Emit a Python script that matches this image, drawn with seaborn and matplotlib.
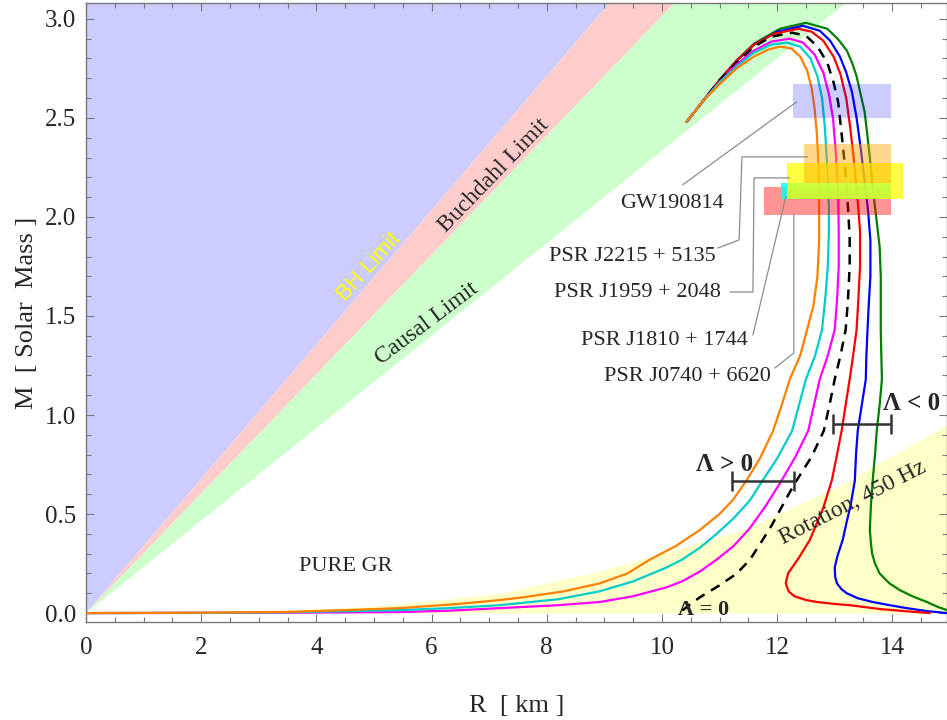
import numpy as np
import pandas as pd
import seaborn as sns
import matplotlib.pyplot as plt
from matplotlib.ticker import MultipleLocator, FormatStrFormatter

sns.set_style("ticks")
plt.rcParams["font.family"] = ["Liberation Serif", "DejaVu Serif"]

# --- limits: R (km) where each limit line reaches M = 3.1 (lines start at origin)
M_TOP = 3.1
bh_R_top = 9.15
buchdahl_R_top = 10.29
causal_R_top = 13.28

# --- rotation (450 Hz) boundary
rot_R = [0.0, 3.0, 5.0, 7.2, 8.9, 10.1, 11.5, 13.0, 14.95]
rot_M = [0.0, 0.008, 0.035, 0.10, 0.21, 0.31, 0.43, 0.63, 0.95]

# --- mass-radius curves (traced from the unstable end, over the peak, down to low mass)
orange_R = [10.43, 10.7, 11.0, 11.3, 11.6, 11.85, 12.05, 12.25, 12.4, 12.52, 12.6, 12.65, 12.69, 12.72,
            12.73, 12.73, 12.70, 12.63, 12.52, 12.40, 12.22, 12.08, 11.93, 11.7, 11.47, 11.23, 11.0,
            10.66, 10.25, 9.79, 9.4, 8.92, 8.3, 7.6, 7.19, 6.5, 5.45, 4.5, 3.5, 2.0, 0.0]
orange_M = [2.48, 2.58, 2.67, 2.75, 2.81, 2.845, 2.86, 2.85, 2.81, 2.74, 2.65, 2.55, 2.42, 2.25,
            2.05, 1.88, 1.7, 1.55, 1.43, 1.3, 1.18, 1.05, 0.92, 0.78, 0.67, 0.57, 0.50,
            0.42, 0.34, 0.27, 0.20, 0.15, 0.11, 0.08, 0.066, 0.047, 0.025, 0.015, 0.006, 0.002, 0.0]

cyan_R = [10.43, 10.7, 11.0, 11.3, 11.6, 11.9, 12.17, 12.4, 12.58, 12.7, 12.78, 12.83, 12.87, 12.9,
          12.9, 12.88, 12.84, 12.78, 12.66, 12.5, 12.38, 12.26, 12.0, 11.75, 11.53, 11.25, 10.95,
          10.66, 10.35, 10.08, 9.5, 8.92, 8.2, 7.19, 6.3, 5.45, 3.5, 2.0, 0.0]
cyan_M = [2.48, 2.58, 2.68, 2.76, 2.83, 2.87, 2.88, 2.86, 2.8, 2.71, 2.6, 2.45, 2.25, 2.05,
          1.93, 1.75, 1.6, 1.43, 1.3, 1.18, 1.05, 0.92, 0.78, 0.67, 0.57, 0.48, 0.40,
          0.33, 0.27, 0.23, 0.16, 0.11, 0.07, 0.04, 0.025, 0.015, 0.004, 0.001, 0.0]

magenta_R = [10.43, 10.7, 11.0, 11.3, 11.6, 11.9, 12.22, 12.45, 12.65, 12.8, 12.9, 12.97, 13.02, 13.06,
             13.07, 13.07, 13.04, 13.0, 12.88, 12.74, 12.64, 12.54, 12.32, 12.08, 11.8, 11.53, 11.25,
             10.95, 10.66, 10.35, 10.08, 9.5, 8.92, 8.2, 7.19, 6.3, 5.45, 3.5, 0.0]
magenta_M = [2.48, 2.58, 2.68, 2.77, 2.84, 2.885, 2.90, 2.88, 2.82, 2.73, 2.62, 2.5, 2.32, 2.12,
             1.93, 1.75, 1.58, 1.43, 1.3, 1.18, 1.05, 0.92, 0.79, 0.67, 0.54, 0.43, 0.34,
             0.27, 0.21, 0.16, 0.13, 0.085, 0.056, 0.04, 0.025, 0.012, 0.005, 0.002, 0.0]

dashed_R = [10.43, 10.7, 11.0, 11.3, 11.6, 11.9, 12.26, 12.5, 12.7, 12.87, 12.98, 13.06, 13.12, 13.18,
            13.23, 13.26, 13.26, 13.23, 13.19, 13.1, 13.0, 12.91, 12.81, 12.6, 12.34, 12.2, 12.05,
            11.9, 11.75, 11.53, 11.3, 11.0, 10.66, 10.45, 10.3]
dashed_M = [2.48, 2.58, 2.69, 2.78, 2.86, 2.91, 2.93, 2.915, 2.86, 2.78, 2.68, 2.58, 2.42, 2.25,
            2.05, 1.9, 1.75, 1.58, 1.43, 1.3, 1.18, 1.05, 0.92, 0.79, 0.67, 0.6, 0.52,
            0.44, 0.37, 0.27, 0.20, 0.14, 0.08, 0.035, 0.0]

red_R = [10.43, 10.7, 11.0, 11.3, 11.6, 11.95, 12.37, 12.6, 12.8, 12.98, 13.1, 13.2, 13.27, 13.34,
         13.4, 13.44, 13.44, 13.41, 13.38, 13.32, 13.26, 13.19, 13.12, 13.04, 12.95, 12.8, 12.57,
         12.38, 12.19, 12.15, 12.2, 12.3, 12.5, 12.69, 13.0, 13.26, 13.8, 14.3, 14.65]
red_M = [2.48, 2.58, 2.69, 2.79, 2.87, 2.925, 2.95, 2.935, 2.89, 2.81, 2.72, 2.6, 2.45, 2.27,
         2.08, 1.93, 1.75, 1.58, 1.43, 1.3, 1.18, 1.05, 0.92, 0.8, 0.67, 0.53, 0.37,
         0.28, 0.2, 0.15, 0.11, 0.085, 0.066, 0.056, 0.046, 0.04, 0.02, 0.008, 0.0]

blue_R = [10.43, 10.7, 11.0, 11.3, 11.6, 12.0, 12.45, 12.74, 12.92, 13.09, 13.2, 13.3, 13.38, 13.45,
          13.52, 13.58, 13.62, 13.62, 13.59, 13.57, 13.55, 13.54, 13.47, 13.4, 13.37, 13.35, 13.28,
          13.2, 13.14, 13.05, 13.0, 13.01, 13.04, 13.12, 13.21, 13.4, 13.66, 13.95, 14.25, 14.6, 14.95]
blue_M = [2.48, 2.58, 2.69, 2.79, 2.87, 2.935, 2.965, 2.94, 2.89, 2.81, 2.73, 2.63, 2.5, 2.35,
          2.18, 2.03, 1.88, 1.7, 1.55, 1.43, 1.3, 1.18, 1.05, 0.92, 0.8, 0.67, 0.55,
          0.45, 0.37, 0.29, 0.23, 0.18, 0.15, 0.12, 0.10, 0.075, 0.056, 0.04, 0.025, 0.01, 0.0]

green_R = [10.43, 10.7, 11.0, 11.3, 11.6, 12.05, 12.5, 12.87, 13.05, 13.21, 13.3, 13.38, 13.45, 13.52,
           13.56, 13.61, 13.66, 13.72, 13.78, 13.8, 13.8, 13.8, 13.81, 13.82, 13.78, 13.73, 13.7,
           13.66, 13.63, 13.61, 13.63, 13.65, 13.7, 13.78, 13.95, 14.13, 14.35, 14.6, 14.8, 14.95]
green_M = [2.48, 2.58, 2.69, 2.79, 2.875, 2.95, 2.98, 2.95, 2.9, 2.84, 2.78, 2.71, 2.62, 2.53,
           2.43, 2.3, 2.15, 2.0, 1.85, 1.7, 1.55, 1.43, 1.3, 1.18, 1.05, 0.92, 0.8,
           0.67, 0.55, 0.42, 0.35, 0.30, 0.25, 0.2, 0.15, 0.116, 0.085, 0.056, 0.03, 0.015]

# --- observational constraints (R range, M range)
obs_names = ["PSR J0740 + 6620", "PSR J1810 + 1744", "PSR J1959 + 2048", "PSR J2215 + 5135", "GW190814"]
obs_R_lo = [11.77, 12.07, 12.17, 12.47, 12.27]
obs_R_hi = [13.98, 13.98, 14.18, 13.98, 13.98]
obs_M_lo = [2.01, 2.09, 2.09, 2.17, 2.50]
obs_M_hi = [2.15, 2.17, 2.27, 2.37, 2.67]
obs_colors = ["#ff0000", "#00ffff", "#ffff00", "#ffa500", "#0000ff"]
obs_alpha = [0.42, 0.8, 0.75, 0.45, 0.2]
# label centre (R, M) and leader polyline
obs_label_R = [10.45, 10.05, 9.58, 9.48, 10.17]
obs_label_M = [1.192, 1.374, 1.616, 1.798, 2.066]
obs_lead_R = [[11.96, 12.29, 12.29], [11.58, 12.15], [11.18, 11.58, 11.60, 12.22],
              [10.97, 11.34, 11.39, 12.53], [10.36, 12.34]]
obs_lead_M = [[1.237, 1.313, 2.01], [1.404, 2.101], [1.621, 1.621, 2.197, 2.197],
              [1.843, 1.884, 2.303, 2.303], [2.162, 2.581]]

# --- Lambda bars
lam_pos_R = [11.22, 12.29]
lam_pos_M = 0.667
lam_neg_R = [12.97, 13.98]
lam_neg_M = 0.955

fig = plt.figure(figsize=(9.47, 7.2), dpi=100)
ax = fig.add_axes([86 / 947, 98 / 720, 861 / 947, 619 / 720])

# limit regions
ax.fill([0, bh_R_top, 0], [0, M_TOP, M_TOP], color="#ccccff", lw=0, zorder=0)
ax.fill([0, buchdahl_R_top, bh_R_top], [0, M_TOP, M_TOP], color="#ffcccc", lw=0, zorder=0)
ax.fill([0, causal_R_top, buchdahl_R_top], [0, M_TOP, M_TOP], color="#ccffcc", lw=0, zorder=0)
ax.fill_between(rot_R, 0, rot_M, color="#ffffc8", lw=0, zorder=0)

# drawn back to front so the orange curve ends up on top, as in the original
curves = [
    (green_R, green_M, "#008000"),
    (blue_R, blue_M, "#0000ff"),
    (red_R, red_M, "#ff0000"),
    (magenta_R, magenta_M, "#ff00ff"),
    (cyan_R, cyan_M, "#00cccc"),
    (orange_R, orange_M, "#ff8000"),
]
for i, (R, M, c) in enumerate(curves):
    sns.lineplot(x=R, y=M, sort=False, estimator=None, color=c, lw=1.6, ax=ax, zorder=3 + 0.01 * i)
    if i == 2:
        sns.lineplot(x=dashed_R, y=dashed_M, sort=False, estimator=None, color="black", lw=1.8,
                     linestyle=(0, (4, 3)), ax=ax, zorder=3.025)

# observational boxes
for i in range(len(obs_names)):
    ax.fill_between([obs_R_lo[i], obs_R_hi[i]], obs_M_lo[i], obs_M_hi[i],
                    color=obs_colors[i], alpha=obs_alpha[i], lw=0, zorder=4)
    ax.plot(obs_lead_R[i], obs_lead_M[i], color="#8c8c8c", lw=0.9, zorder=5)
    ax.text(obs_label_R[i], obs_label_M[i], obs_names[i], fontsize=16,
            ha="center", va="center", zorder=6)

# Lambda bars
ax.errorbar(np.mean(lam_pos_R), lam_pos_M, xerr=np.diff(lam_pos_R)[0] / 2, color="#333333",
            lw=1.8, capsize=7, capthick=1.8, zorder=6)
ax.errorbar(np.mean(lam_neg_R), lam_neg_M, xerr=np.diff(lam_neg_R)[0] / 2, color="#333333",
            lw=1.8, capsize=7, capthick=1.8, zorder=6)
ax.text(11.09, 0.75, "Λ > 0", fontsize=18, fontweight="bold", ha="center", va="center", zorder=7)
ax.text(13.84, 1.06, "Λ < 0", fontsize=18, fontweight="bold", ha="left", va="center", zorder=7)
ax.text(10.73, 0.015, "Λ = 0", fontsize=16, fontweight="bold", ha="center", va="center", zorder=7)

# region labels
ax.text(4.51, 0.237, "PURE GR", fontsize=16, ha="center", va="center")
ax.text(13.32, 0.556, "Rotation, 450 Hz", fontsize=17, rotation=27, ha="center", va="center",
        rotation_mode="anchor", zorder=7)
ax.text(4.91, 1.747, "BH Limit", fontsize=16, color="#ffff00", family="Liberation Sans",
        rotation=48, ha="center", va="center", rotation_mode="anchor")
ax.text(7.08, 2.21, "Buchdahl Limit", fontsize=17, rotation=46, ha="center", va="center",
        rotation_mode="anchor")
ax.text(5.92, 1.46, "Causal Limit", fontsize=17, rotation=37, ha="center", va="center",
        rotation_mode="anchor")

ax.set_xlim(0, 14.95)
ax.set_ylim(-0.045, 3.08)
ax.xaxis.set_major_locator(MultipleLocator(2))
ax.xaxis.set_minor_locator(MultipleLocator(0.5))
ax.yaxis.set_major_locator(MultipleLocator(0.5))
ax.yaxis.set_minor_locator(MultipleLocator(0.1))
ax.yaxis.set_major_formatter(FormatStrFormatter("%.1f"))
ax.tick_params(which="both", direction="in", top=True, right=True, color="#777777")
ax.tick_params(which="major", length=6, width=0.8, labelsize=18)
ax.tick_params(which="minor", length=3.5, width=0.8)
ax.tick_params(axis="x", which="major", pad=11)
ax.tick_params(axis="y", which="major", pad=7)
for s in ax.spines.values():
    s.set_color("#777777")
    s.set_linewidth(1.0)

ax.set_xlabel("R  [ km ]", fontsize=19, labelpad=26)
ax.set_ylabel("M  [ Solar  Mass ]", fontsize=19, labelpad=5)

fig.savefig("out.png", dpi=100)
